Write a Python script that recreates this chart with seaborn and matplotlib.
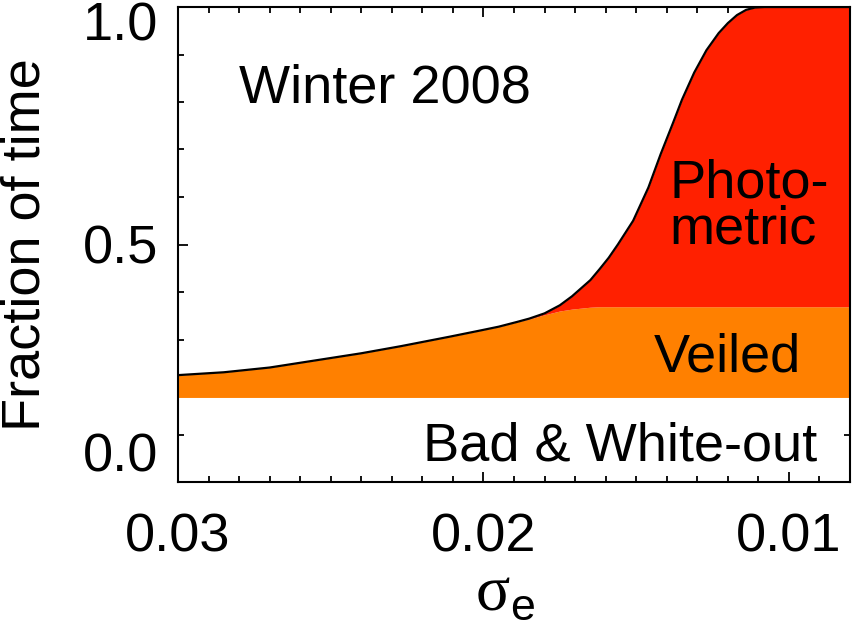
import matplotlib
matplotlib.use('Agg')
import matplotlib.pyplot as plt
import seaborn as sb
import numpy as np
from matplotlib.ticker import MultipleLocator
from matplotlib.transforms import ScaledTranslation

# seeing threshold sigma_e (x axis, plotted reversed)
sigma = [0.0300, 0.0285, 0.0270, 0.0255, 0.0240, 0.0227, 0.0211, 0.0201,
         0.0195, 0.0189, 0.0185, 0.0180, 0.0175, 0.0171, 0.0168, 0.0165,
         0.0162, 0.0159, 0.0156, 0.0151, 0.0146, 0.0142, 0.0138, 0.0135,
         0.0131, 0.0127, 0.0123, 0.0120, 0.0117, 0.0114, 0.0111, 0.0108,
         0.0080]
# cumulative fractions of time
bad = [0.178] * len(sigma)
veiled = [0.225, 0.231, 0.241, 0.256, 0.271, 0.286, 0.306, 0.319,
          0.327, 0.337, 0.343, 0.352, 0.360, 0.364, 0.366, 0.368,
          0.369, 0.369, 0.369, 0.369, 0.369, 0.369, 0.369, 0.369,
          0.369, 0.369, 0.369, 0.369, 0.369, 0.369, 0.369, 0.369,
          0.369]
total = [0.225, 0.231, 0.241, 0.256, 0.271, 0.286, 0.306, 0.319,
         0.327, 0.337, 0.344, 0.355, 0.372, 0.391, 0.408, 0.425,
         0.448, 0.472, 0.500, 0.550, 0.620, 0.690, 0.755, 0.805,
         0.862, 0.909, 0.945, 0.966, 0.983, 0.994, 0.999, 1.000,
         1.000]

xticks = [0.03, 0.02, 0.01]
xticklabels = ['0.03', '0.02', '0.01']
yticks = [0.0, 0.5, 1.0]
yticklabels = ['0.0', '0.5', '1.0']

sb.set_style('ticks')
plt.rcParams['font.family'] = ['Liberation Sans', 'DejaVu Sans']
plt.rcParams['text.color'] = 'k'
plt.rcParams['axes.labelcolor'] = 'k'
plt.rcParams['xtick.color'] = 'k'
plt.rcParams['ytick.color'] = 'k'
plt.rcParams['mathtext.fontset'] = 'custom'
plt.rcParams['mathtext.rm'] = 'Liberation Serif'
plt.rcParams['mathtext.sf'] = 'Liberation Sans'

fig = plt.figure(figsize=(8.54, 6.25), dpi=100)
ax = fig.add_axes([178/854, 1 - 482/625, 672/854, 475/625])

ax.fill_between(sigma, bad, veiled, color='#ff8000', linewidth=0)
ax.fill_between(sigma, veiled, total, color='#ff2000', linewidth=0)
sb.lineplot(x=sigma, y=total, color='k', linewidth=1.6, ax=ax)

ax.set_xlim(0.03, 0.008)
ax.set_ylim(0, 1)

ax.set_xticks(xticks)
ax.set_xticklabels(xticklabels)
ax.set_yticks(yticks)
ax.set_yticklabels(yticklabels)
ax.xaxis.set_minor_locator(MultipleLocator(0.001))
ax.yaxis.set_minor_locator(MultipleLocator(0.1))
ax.tick_params(which='both', direction='in', top=True, right=True,
               width=1.3, colors='k', labelsize=39)
ax.tick_params(which='major', length=7)
ax.tick_params(which='minor', length=4)
ax.tick_params(axis='x', which='major', pad=22)
ax.tick_params(axis='y', which='major', pad=14)
for s in ax.spines.values():
    s.set_linewidth(1.5)
    s.set_color('k')

ylab = ax.get_yticklabels()
ylab[0].set_va('bottom')
ylab[2].set_va('top')
ylab[2].set_transform(ylab[2].get_transform() +
                      ScaledTranslation(0, 4/72, fig.dpi_scale_trans))

ax.set_ylabel('Fraction of time', fontsize=39)
ax.yaxis.set_label_coords(-0.19, 0.5)
ax.set_xlabel(r'$\mathrm{\sigma}_{\mathsf{e}}$', fontsize=46)
ax.xaxis.set_label_coords(0.487, -0.17)

ax.text(0.308, 0.798, 'Winter 2008', transform=ax.transAxes, fontsize=39,
        ha='center', va='baseline')
ax.text(0.732, 0.600, 'Photo-', transform=ax.transAxes, fontsize=39,
        ha='left', va='baseline')
ax.text(0.732, 0.503, 'metric', transform=ax.transAxes, fontsize=39,
        ha='left', va='baseline')
ax.text(0.818, 0.2316, 'Veiled', transform=ax.transAxes, fontsize=39,
        ha='center', va='baseline')
ax.text(0.658, 0.0463, 'Bad & White-out', transform=ax.transAxes, fontsize=39,
        ha='center', va='baseline')

fig.savefig('out.png', dpi=100)
